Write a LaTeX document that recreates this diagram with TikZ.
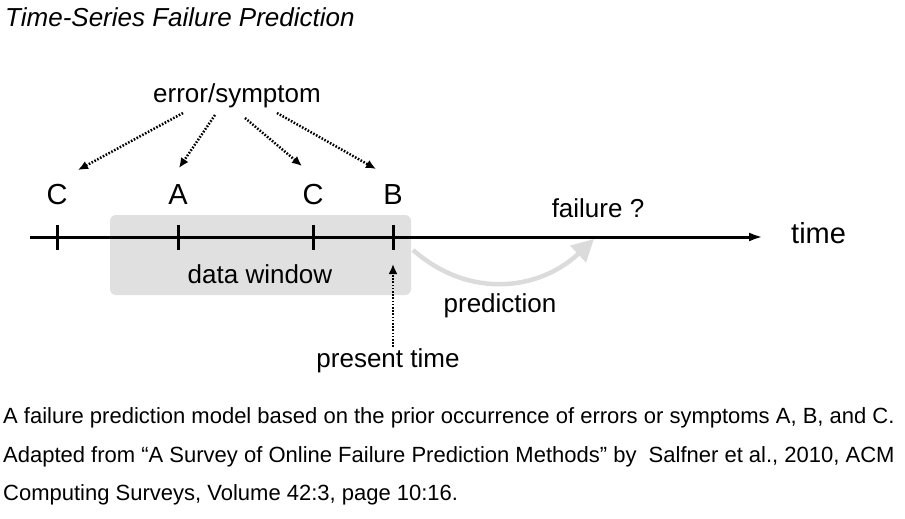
\documentclass[tikz,border=0pt]{standalone}
\usepackage{fontspec}
\setmainfont{Liberation Sans}
\usetikzlibrary{arrows.meta}
\begin{document}
\begin{tikzpicture}[x=1pt,y=-1pt,
  lbl/.style={inner sep=0pt,font=\fontsize{26}{30}\selectfont},
  letter/.style={inner sep=0pt,font=\fontsize{29}{32}\selectfont,anchor=base},
  captext/.style={inner sep=0pt,anchor=base west,font=\fontsize{22}{26}\selectfont},
  dots/.style={line width=2.5pt,dash pattern=on 1.6pt off 1.6pt,-{Latex[length=10pt,width=9pt]},shorten >=0pt},
  tickmark/.style={line width=3pt},
  axis/.style={line width=3pt,-{Latex[length=14pt,width=9pt]}}]
\useasboundingbox (0,0) rectangle (905,519);
\fill[white] (0,0) rectangle (905,519);
% title
\node[inner sep=0pt,anchor=base west,font=\fontsize{26}{30}\selectfont\itshape] (title) at (5,27) {Time-Series Failure Prediction};
% data window
\node[fill=black!12,rounded corners=6pt,minimum width=301pt,minimum height=80pt,inner sep=0pt] (win) at (260.5,255) {};
\node[lbl] (dw) at (260,274) {data window};
% axis
\coordinate (axs) at (30,237);
\coordinate (axe) at (763,237);
\draw[axis] (axs) -- (axe);
\node[lbl,anchor=west,font=\fontsize{29}{32}\selectfont] (time) at (791,233) {time};
% ticks
\foreach \n/\x in {t1/57,t2/178,t3/313,t4/393}{
  \coordinate (\n top) at (\x,225);
  \coordinate (\n bot) at (\x,250);
  \draw[tickmark] (\n top) -- (\n bot);
}
\node[letter] (c1) at (57,204) {C};
\node[letter] (a) at (178,204) {A};
\node[letter] (c2) at (313,204) {C};
\node[letter] (b) at (393,204) {B};
% error/symptom
\node[lbl] (err) at (237,96) {error/symptom};
\coordinate (e1) at (183,113);
\coordinate (e2) at (215,115);
\coordinate (e3) at (245,118);
\coordinate (e4) at (277,113);
\coordinate (p1) at (78,170);
\coordinate (p2) at (179,168);
\coordinate (p3) at (302,166);
\coordinate (p4) at (376,169);
\draw[dots] (e1) -- (p1);
\draw[dots] (e2) -- (p2);
\draw[dots] (e3) -- (p3);
\draw[dots] (e4) -- (p4);
% present time
\node[lbl,anchor=base] (pt) at (388,367) {present time};
\coordinate (ptarrow) at (393,264);
\coordinate (ptfoot) at (393,347);
\draw[dots] (ptfoot) -- (ptarrow);
% prediction
\coordinate (ps) at (413,250);
\coordinate (pe) at (594,239);
\draw[line width=4.5pt,color=black!14,-{Triangle[length=22pt,width=22pt]}] (ps) .. controls (470,300) and (540,290) .. (pe);
\node[lbl] (pred) at (500,306) {prediction};
\node[lbl] (fail) at (598,208) {failure ?};
% caption
\node[captext] (cl1) at (3,423) {A failure prediction model based on the prior occurrence of errors or symptoms A, B, and C.};
\node[captext] (cl2) at (3,462) {Adapted from “A Survey of Online Failure Prediction Methods” by\ \ Salfner et al., 2010, ACM};
\node[captext] (cl3) at (3,500) {Computing Surveys, Volume 42:3, page 10:16.};
\end{tikzpicture}
\end{document}
